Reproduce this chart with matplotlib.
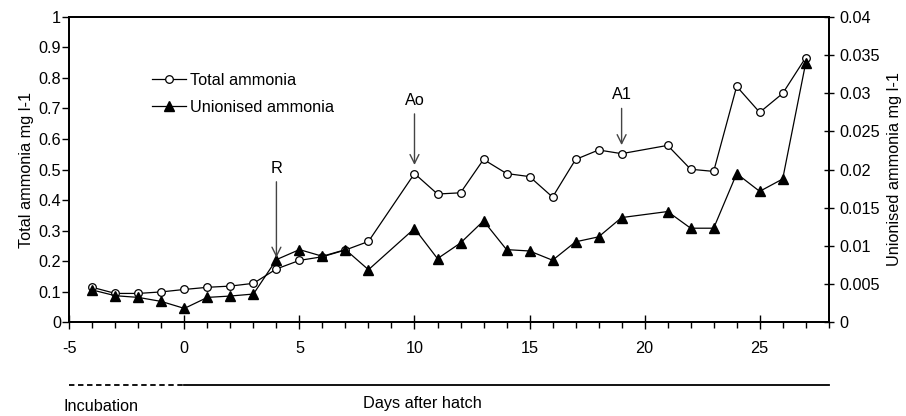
import matplotlib
matplotlib.use("Agg")
import matplotlib.pyplot as plt
from matplotlib.lines import Line2D
from matplotlib.ticker import MultipleLocator, FuncFormatter
from matplotlib.transforms import blended_transform_factory

plt.rcParams['font.family'] = ['Liberation Sans', 'DejaVu Sans']
plt.rcParams['font.size'] = 11.7
plt.rcParams['axes.unicode_minus'] = False

# sampling days (no samples on day 9 and day 20)
days = [-4, -3, -2, -1, 0, 1, 2, 3, 4, 5, 6, 7, 8,
        10, 11, 12, 13, 14, 15, 16, 17, 18, 19,
        21, 22, 23, 24, 25, 26, 27]
total_ammonia = [0.115, 0.095, 0.095, 0.100, 0.108, 0.115, 0.119, 0.128, 0.175, 0.203,
                 0.215, 0.237, 0.265, 0.487, 0.420, 0.424, 0.533, 0.487, 0.477, 0.410,
                 0.533, 0.564, 0.552, 0.579, 0.501, 0.494, 0.772, 0.687, 0.749, 0.866]
unionised_ammonia = [0.00425, 0.00350, 0.00328, 0.00275, 0.00184, 0.00328, 0.00346, 0.00372,
                     0.00822, 0.00953, 0.00866, 0.00953, 0.00690, 0.01229, 0.00835, 0.01040,
                     0.01329, 0.00953, 0.00935, 0.00814, 0.01055, 0.01120, 0.01372, 0.01451,
                     0.01233, 0.01233, 0.01947, 0.01715, 0.01877, 0.03395]

# events marked with arrows: (label, day, arrow tip, text height)
events = [("R", 4, 0.212, 0.505), ("Ao", 10, 0.515, 0.727), ("A1", 19, 0.580, 0.745)]

fig = plt.figure(figsize=(9.06, 4.16), dpi=100)
ax = fig.add_axes([0.0765, 0.2248, 0.8382, 0.7352])
ax2 = ax.twinx()

ax.plot(days, total_ammonia, color='black', lw=0.9, marker='o', ms=5.5,
        mfc='white', mec='black', mew=0.9, label='Total ammonia', zorder=3)
ax2.plot(days, unionised_ammonia, color='black', lw=0.9, marker='^', ms=6.5,
         mfc='black', mec='black', label='Unionised ammonia', zorder=3)

ax.set_xlim(-5, 28)
ax.set_ylim(0, 1)
ax2.set_ylim(0, 0.04)

ax.xaxis.set_major_locator(MultipleLocator(5))
ax.xaxis.set_minor_locator(MultipleLocator(1))
ax.yaxis.set_major_locator(MultipleLocator(0.1))
ax2.yaxis.set_major_locator(MultipleLocator(0.005))
fmt = FuncFormatter(lambda v, p: '%g' % round(v, 4))
ax.yaxis.set_major_formatter(fmt)
ax2.yaxis.set_major_formatter(fmt)

ax.tick_params(axis='x', which='major', direction='inout', length=10, width=1, pad=8)
ax.tick_params(axis='x', which='minor', direction='out', length=4, width=1)
ax.tick_params(axis='y', direction='out', length=5, width=1, pad=1)
ax2.tick_params(axis='y', direction='inout', length=7, width=1, pad=4)

for a in (ax, ax2):
    for s in a.spines.values():
        s.set_linewidth(1.3)

ax.set_ylabel('Total ammonia mg l-1', labelpad=3)
ax2.set_ylabel('Unionised ammonia mg l-1', labelpad=5)

for name, day, tip, ytext in events:
    ax2.annotate('', xy=(day, tip * 0.04), xytext=(day, (ytext - 0.045) * 0.04),
                 arrowprops=dict(arrowstyle='->', color='#444444', lw=1,
                                 mutation_scale=16, shrinkA=0, shrinkB=0))
    ax2.text(day, ytext * 0.04, name, ha='center', va='center')

h1, l1 = ax.get_legend_handles_labels()
h2, l2 = ax2.get_legend_handles_labels()
ax2.legend(h1 + h2, l1 + l2, loc='upper left', bbox_to_anchor=(0.09, 0.865),
           frameon=False, handlelength=2.1, handletextpad=0.25, labelspacing=0.75)

# period bar under the axis: incubation (dashed) and days after hatch (solid)
trans = blended_transform_factory(ax.transData, fig.transFigure)
fig.add_artist(Line2D([-5, 0], [0.0738, 0.0738], transform=trans, color='black',
                      lw=1.3, ls=(0, (3, 2))))
fig.add_artist(Line2D([0, 28], [0.0738, 0.0738], transform=trans, color='black', lw=1.3))
fig.text(0.0706, 0.022, 'Incubation', ha='left', va='center')
fig.text(0.466, 0.031, 'Days after hatch', ha='center', va='center')

fig.savefig('out.png', dpi=100)
